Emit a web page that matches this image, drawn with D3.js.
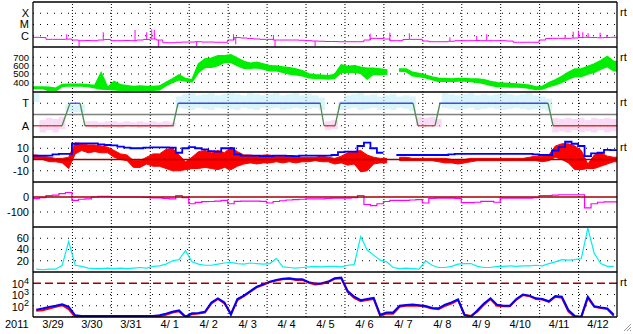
<!DOCTYPE html>
<html>
<head>
<meta charset="utf-8">
<script src="https://cdn.jsdelivr.net/npm/d3@7"></script>
<style>
body { margin: 0; background: #fff; }
svg { display: block; font-family: "Liberation Sans", Arial, sans-serif; font-size: 11px; }
</style>
</head>
<body>
<svg width="633" height="334"></svg>
<script>
// ---- data: 4-hour bins, 2011-03-29 00UT .. 2011-04-13 00UT (90 bins) ----

// GOES x-ray, log10 flux (baseline) + short spikes [hour, log10 flux]
var xrayLog = [
  -6.14,-6.16,-6.32,-6.32,-6.32,-6.30, -6.38,-6.44,-6.42,-6.44,-6.38,-6.33,
  -6.44,-6.44,-6.42,-6.44,-6.38,-6.33, -6.29,-6.38,-6.62,-6.62,-6.58,-6.56,
  -6.56,-6.53,-6.56,-6.56,-6.58,-6.58, -6.38,-6.16,-6.20,-6.24,-6.29,-6.32,
  -6.32,-6.38,-6.38,-6.38,-6.38,-6.40, -6.44,-6.47,-6.49,-6.51,-6.51,-6.53,
  -6.53,-6.53,-6.53,-6.38,-6.23,-6.24, -6.29,-6.44,-6.44,-6.33,-6.32,-6.32,
  -6.47,-6.53,-6.53,-6.53,-6.49,-6.44, -6.44,-6.44,-6.42,-6.44,-6.44,-6.44,
  -6.44,-6.47,-6.58,-6.58,-6.58,-6.58, -6.38,-6.24,-6.23,-6.23,-6.23,-6.20,
  -6.16,-6.14,-6.16,-6.18,-6.16,-6.14
];
var xraySpikeHours = [20.8, 28.4, 43.3, 62.9, 70.1, 73.2, 74.8, 77.3, 100.9, 123.6, 125, 148.2, 149.2,
  173.9, 207.8, 220, 232, 257, 273.5, 279.7, 328, 333, 336.2, 338.9, 342.2, 349.6, 353.7];
var xraySpikeLog = [-5.87, -6.97, -5.69, -5.49, -5.69, -5.43, -5.49, -6.97, -6.91, -5.87, -6.76, -5.93, -6.97,
  -6.93, -5.82, -5.73, -5.78, -6.14, -6.02, -5.87, -5.93, -5.64, -5.55, -5.69, -5.78, -5.73, -5.93];

// solar wind speed, km/s (low / high envelope per bin)
var speedLo = [
  325,325,300,295,350,358, 355,355,350,335,320,318, 310,305,300,305,305,300,
  305,310,360,400,430,415, 405,520,580,580,600,640, 640,600,570,570,575,560,
  540,540,520,500,490,480, 455,450,445,440,450,520, 520,520,510,440,500,490,
  500,null,535,530,480,470, 455,435,410,415,410,415, 415,410,400,385,365,350,
  350,345,345,340,330,315, 320,350,370,400,440,470, 470,500,520,560,590,540
];
var speedHi = [
  345,345,340,330,375,378, 378,378,372,362,515,340, 410,370,360,350,355,350,
  350,355,400,440,490,445, 430,620,680,690,720,720, 730,690,650,630,640,620,
  600,595,585,575,560,540, 500,490,485,480,495,610, 590,600,580,570,570,560,
  550,null,560,560,520,505, 485,465,450,445,440,445, 445,440,440,430,410,395,
  390,385,380,375,365,345, 350,395,430,470,520,560, 560,590,620,660,710,650
];

// IMF sector: T = +1, A = -1 (change points in hours)
var sectorHours  = [0, 17.9, 22.8, 29, 32, 86.3, 89.4, 177, 179.4, 186.2, 189.3, 234.3, 237.3, 247.8, 250.9, 317.5, 320.6, 360];
var sectorValues = [-1, -1, 1, 1, -1, -1, 1, 1, -1, -1, 1, 1, -1, -1, 1, 1, -1, -1];
var sectorTicks = [1, -1];
var sectorTickLabels = ['T', 'A'];
// spread of the field angle points per bin (same units)
var sectorLo = [
  1.1,-1.6,-1.4,-1.6,-1.3,0.2, 0.2,0.2,-1.1,-1.2,-1.1,-1.2, -1.1,-1.2,-1.0,-1.1,-1.2,-1.1,
  -1.1,-1.2,-1.1,-1.0,0.6,0.5, 0.4,0.6,0.5,0.4,0.6,0.5, 0.5,0.4,0.6,0.5,0.4,0.6,
  0.5,0.6,0.4,0.5,0.6,0.5, 0.5,0.6,0.4,-1.4,-1.3,0.4, 0.5,0.6,0.4,0.5,0.6,0.4,
  0.5,0.4,0.6,0.5,0.3,-1.0, -1.0,-0.9,-1.1,0.6,0.5,0.4, 0.5,0.6,0.4,0.5,0.6,0.5,
  0.4,0.5,0.6,0.5,0.4,0.5, 0.5,0.3,-1.6,-1.5,-1.6,-1.4, -1.6,-1.5,-1.6,-1.4,-1.6,-1.5
];
var sectorHi = [
  1.9,-0.5,-0.3,-0.4,-0.2,0.9, 0.9,0.9,-0.6,-0.6,-0.7,-0.6, -0.6,-0.7,-0.6,-0.7,-0.6,-0.7,
  -0.6,-0.7,-0.6,-0.7,1.6,1.8, 1.9,1.7,1.8,1.9,1.7,1.8, 1.9,1.8,1.7,1.9,1.8,1.7,
  1.8,1.9,1.7,1.8,1.9,1.7, 1.8,1.7,1.5,-0.6,-0.5,1.2, 1.7,1.8,1.9,1.7,1.8,1.6,
  1.7,1.8,1.6,1.7,1.6,-0.2, -0.3,-0.2,-0.4,1.9,1.8,1.7, 1.8,1.9,1.7,1.8,1.7,1.8,
  1.9,1.8,1.7,1.8,1.9,1.7, 1.6,1.4,-0.3,-0.4,-0.3,-0.4, -0.3,-0.5,-0.3,-0.4,-0.3,-0.4
];

// IMF Bt (blue) and Bz envelope (red), nT
var bt = [
  3.4,3.4,3.4,4.5,5,5, 14,14.4,14.4,14.4,13.5,12.9, 12.5,11.5,10.5,10,10,10.5,
  10.8,10.8,10.8,10.5,6,10, 11,10,9,7.5,7,10, 10,4.5,3.5,3.4,3.4,3,
  3,3.4,3.4,3.2,3,3.4, 3.4,3.4,3.4,3.4,4,6.5, 7,7,12,15,10,6,
  6,null,4,4,4,4, 4,4,4,4,4.5,5, 5,5,5,5,5,5,
  5,5,5,5,5,4.5, 4,4,8,11,15.8,14, 12,3,5.5,6,8.5,8.4
];
var bzLo = [
  1,0,-2,-2,-3,-8, 5,8,6,7,6,6, 2,0,-1,-7,-7,-4, -6,-6,-8,-10,-10,-9,
  -8,-8,-7,-8,-9,-7, -9,-6,-4,-3,-4,-3, -3,-2,-3,-2,-3,-2, -2,-1,-2,-2,-4,-3,
  -5,-4,-11,-10,-4,-3, -3,null,-1,-1,-1,-1, -1,-1,-2,-3,-3,-4, -3,-2,-1,-1,-1,-1,
  -1,-1,-1,-1,-1,-1, -2,-1,2,0,-3,-9, -9,-8,-8,-6,-4,-2
];
var bzHi = [
  4,3,2,1,1,2, 15,14,13,13,12,11, 8,5,4,-1,-1,2, 5,5,9,10,4,-2,
  2,7,8,6,8,6, 11,7,4,4,3,4, 4,3,3,3,3,2, 2,2,3,2,1,3,
  6,7,8,4,2,1, 1,null,2,2,1,1, 1,1,1,1,0,-1, 0,1,1,1,1,1,
  1,1,1,1,2,3, 3,4,12,14,14,12, 8,-4,4,6,3,2
];

// Dst, nT
var dst = [
  -11,-5,9,12,22,30, -22,-15,-12,0,4,4, 0,0,0,0,0,-2, -6,-6,-10,-12,9,-4,
  -45,-36,-31,-30,-28,-22, -45,-29,-28,-27,-27,-29, -40,-30,-25,-20,-18,-15,
  -13,-13,-12,-10,-7,-7, -7,-5,10,-50,-58,-45, -30,-22,-22,-22,-20,-18,
  -40,-10,-7,-7,-7,-10, -38,-38,-35,-29,-29,-35, -7,-7,-7,-7,-7,-5,
  9,9,12,15,15,15, 15,-73,-45,-35,-33,-33
];

// cyan index panel
var cyanIdx = [
  5,4,5,5,12,54, 12,10,7,6,6,7, 6,7,6,7,8,7, 10,11,14,20,22,38,
  18,14,12,12,14,16, 17,15,14,16,15,14, 15,24,9,8,7,8, 9,10,9,10,10,9,
  12,13,63,39,30,21, 18,8,6,7,6,5, 20,12,8,8,10,14, 15,15,10,8,8,10,
  10,11,10,11,11,12, 11,15,18,22,21,22, 24,78,33,15,10,10
];

// electron flux, log10 (blue and red channels)
var eBlue = [
  1.65,1.75,1.9,2.0,2.13,1.9, 1.15,1.1,1.1,1.1,1.1,1.1, 1.1,1.1,1.1,1.1,1.1,1.1,
  1.1,1.15,1.3,1.47,1.6,1.03, 1.33,1.35,1.47,2.3,2.66,2.3, 1.2,2.6,2.9,3.3,3.7,3.9,
  4.14,4.3,4.4,4.45,4.35,4.35, 4.1,3.95,4.0,4.15,4.45,4.5, 3.3,2.8,2.5,2.6,2.7,1.2,
  1.4,1.4,2.0,2.07,2.1,2.05, 1.98,1.8,1.77,2.1,2.3,2.57, 1.18,1.03,1.6,2.2,2.66,2.1,
  2.0,2.0,2.6,3.0,2.9,2.66, 2.6,2.4,2.87,2.8,1.62,1.1, 1.03,2.8,1.95,1.85,1.77,1.2
];
var eRed = [
  1.55,1.6,1.75,1.9,2.05,1.7, 1.0,1.0,1.0,1.0,1.0,1.0, 1.0,1.0,1.0,1.0,1.0,1.0,
  1.0,1.05,1.2,1.4,1.5,1.0, 1.25,1.3,1.4,2.2,2.6,2.2, 1.3,2.5,2.85,3.25,3.65,3.85,
  4.1,4.25,4.35,4.4,4.3,4.3, 4.05,3.9,3.95,4.1,4.4,4.45, 3.2,2.7,2.4,2.5,2.6,1.1,
  1.3,1.3,1.9,2.0,2.0,2.0, 1.9,1.75,1.7,2.0,2.2,2.5, 1.2,1.1,1.5,2.1,2.6,2.0,
  1.95,1.95,2.55,2.95,2.85,2.6, 2.55,2.35,2.8,2.7,1.5,1.0, 1.0,2.7,1.9,1.8,1.7,1.1
];

var xrayTicks = [-4, -5, -6], xrayTickLabels = ['X', 'M', 'C'];
var speedTicks = [400, 500, 600, 700];
var bTicks = [10, 0, -10];
var dstTicks = [0, -100];
var cyanTicks = [20, 40, 60];
var eTicks = [4, 3, 2];

// ---- layout ----
var svg = d3.select('svg');
var left = 33, right = 617, top0 = 2, ph = 45;
var HOUR = 3600e3, BIN = 4 * HOUR;
var t0 = Date.UTC(2011, 2, 29), t1 = Date.UTC(2011, 3, 13);
var x = d3.scaleUtc().domain([t0, t1]).range([left, right]);
function binT(i) { return t0 + i * BIN; }
function midT(i) { return t0 + i * BIN + BIN / 2; }

var panels = d3.range(7).map(function (i) { return { top: top0 + ph * i, bottom: top0 + ph * (i + 1) }; });
function yFor(p, dom) { return d3.scaleLinear().domain(dom).range([panels[p].bottom, panels[p].top]); }

var yX = yFor(0, [-7, -3]);
var yV = yFor(1, [284, 824]);
var yS = yFor(2, [-2, 2]);
var yB = yFor(3, [-20, 20]);
var yD = yFor(4, [-200, 100]);
var yC = yFor(5, [0, 80]);
var yE = yFor(6, [1, 5]);

var defs = svg.append('defs');
panels.forEach(function (p, i) {
  defs.append('clipPath').attr('id', 'clip' + i)
    .append('rect').attr('x', left).attr('y', p.top).attr('width', right - left).attr('height', ph);
});

var grid = svg.append('g').classed('grid', true);
var marks = svg.append('g').classed('marks', true);
var frame = svg.append('g').classed('frame', true);

// 1. gridlines
// ----------------------------------
var midnights = d3.utcDay.range(new Date(t0 + HOUR), new Date(t1));
grid.append('g')
  .attr('transform', 'translate(0,' + panels[6].bottom + ')')
  .call(d3.axisBottom(x).tickValues(midnights).tickSize(-(panels[6].bottom - top0)).tickFormat(''))
  .call(function (g) { g.select('.domain').remove(); })
  .selectAll('line').attr('stroke', '#000').attr('stroke-dasharray', '1,2');

function hDots(y, vals, dash) {
  grid.selectAll(null).data(vals).enter().append('line')
    .attr('x1', left).attr('x2', right)
    .attr('y1', function (d) { return y(d); }).attr('y2', function (d) { return y(d); })
    .attr('stroke', '#000').attr('stroke-dasharray', dash || '1,6');
}
hDots(yX, xrayTicks);
hDots(yV, speedTicks);
hDots(yS, sectorTicks);
hDots(yB, [10, -10]);
hDots(yD, [-100]);
hDots(yC, cyanTicks);
hDots(yE, [3, 2]);

function refLine(y, v, dash) {
  marks.append('line').attr('x1', left).attr('x2', right)
    .attr('y1', y(v)).attr('y2', y(v))
    .attr('stroke', '#a00000').attr('stroke-width', 1.3)
    .attr('stroke-dasharray', dash || null);
}

// 2. helpers
// ----------------------------------
function stepPts(vals) {
  var pts = vals.map(function (v, i) { return { t: binT(i), v: v }; });
  pts.push({ t: t1, v: vals[vals.length - 1] });
  return pts;
}
function stepPath(y, vals) {
  return d3.line().defined(function (d) { return d.v != null; })
    .curve(d3.curveStepAfter)
    .x(function (d) { return x(d.t); }).y(function (d) { return y(d.v); })(stepPts(vals));
}
// ribbon through bin centres, closed out to both edges
function bandPath(y, lo, hi) {
  var n = lo.length;
  var pts = lo.map(function (v, i) { return { t: midT(i), lo: v, hi: hi[i] }; });
  pts.unshift({ t: t0, lo: lo[0], hi: hi[0] });
  pts.push({ t: t1, lo: lo[n - 1], hi: hi[n - 1] });
  return d3.area().defined(function (d) { return d.lo != null; })
    .x(function (d) { return x(d.t); })
    .y0(function (d) { return y(d.lo); }).y1(function (d) { return y(d.hi); })(pts);
}
function linePath(y, vals) {
  return d3.line().defined(function (d) { return d != null; })
    .x(function (d, i) { return x(midT(i)); }).y(function (d) { return y(d); })(vals);
}
function panelG(i) { return marks.append('g').attr('clip-path', 'url(#clip' + i + ')'); }

// 3. panels
// ----------------------------------
// x-ray
var g0 = panelG(0);
g0.append('path').attr('d', stepPath(yX, xrayLog)).attr('fill', 'none').attr('stroke', '#ff00ff');
g0.selectAll(null).data(xraySpikeHours).enter().append('line')
  .attr('x1', function (h) { return x(t0 + h * HOUR); })
  .attr('x2', function (h) { return x(t0 + h * HOUR); })
  .attr('y1', function (h) { return yX(xrayLog[Math.floor(h / 4)]); })
  .attr('y2', function (h, i) { return yX(xraySpikeLog[i]); })
  .attr('stroke', '#ff00ff');

// speed
var g1 = panelG(1);
g1.append('path').attr('d', bandPath(yV, speedLo, speedHi))
  .attr('fill', '#00ee00').attr('stroke', '#00ee00').attr('stroke-width', 1.5);

// sector
var g2 = panelG(2);
g2.selectAll(null).data(sectorLo).enter().append('rect')
  .attr('x', function (d, i) { return x(binT(i)); })
  .attr('width', function (d, i) { return x(binT(i + 1)) - x(binT(i)); })
  .attr('y', function (d, i) { return yS(sectorHi[i]); })
  .attr('height', function (d, i) { return yS(d) - yS(sectorHi[i]); })
  .attr('fill', function (d, i) { return sectorHi[i] > 0 ? '#b4eaf8' : '#f5b8ee'; })
  .attr('opacity', 0.5);
g2.append('line').attr('x1', left).attr('x2', right)
  .attr('y1', yS(0)).attr('y2', yS(0)).attr('stroke', '#808080').attr('stroke-width', 1.3);
var segs = d3.range(sectorHours.length - 1);
g2.selectAll(null).data(segs).enter().append('line')
  .attr('x1', function (i) { return x(t0 + sectorHours[i] * HOUR); })
  .attr('x2', function (i) { return x(t0 + sectorHours[i + 1] * HOUR); })
  .attr('y1', function (i) { return yS(sectorValues[i]); })
  .attr('y2', function (i) { return yS(sectorValues[i + 1]); })
  .attr('stroke', function (i) {
    if (sectorValues[i] !== sectorValues[i + 1]) return '#4f8a4f';
    return sectorValues[i] > 0 ? '#3a4ee0' : '#e03030';
  })
  .attr('stroke-width', 1.3);

// IMF
var g3 = panelG(3);
refLine(yB, 0);
g3.append('path').attr('d', bandPath(yB, bzLo, bzHi)).attr('fill', '#ff0000').attr('stroke', '#ff0000');
g3.append('path').attr('d', stepPath(yB, bt)).attr('fill', 'none').attr('stroke', '#0000ff').attr('stroke-width', 1.8);

// Dst
var g4 = panelG(4);
refLine(yD, 0);
g4.append('path').attr('d', stepPath(yD, dst)).attr('fill', 'none').attr('stroke', '#ff00ff').attr('stroke-width', 1.2);

// cyan
var g5 = panelG(5);
g5.append('path').attr('d', linePath(yC, cyanIdx)).attr('fill', 'none').attr('stroke', '#00f0f0').attr('stroke-width', 1.2);

// electrons
var g6 = panelG(6);
refLine(yE, 4, '8,4');
g6.append('path').attr('d', linePath(yE, eRed)).attr('fill', 'none').attr('stroke', '#ff0000').attr('stroke-width', 2);
g6.append('path').attr('d', linePath(yE, eBlue)).attr('fill', 'none').attr('stroke', '#0000ff').attr('stroke-width', 2);

// 4. frame
// ----------------------------------
frame.selectAll(null).data(d3.range(8)).enter().append('line')
  .attr('x1', left).attr('x2', right)
  .attr('y1', function (i) { return top0 + ph * i; }).attr('y2', function (i) { return top0 + ph * i; })
  .attr('stroke', '#000').attr('stroke-width', 1.6);
frame.selectAll(null).data([left, right]).enter().append('line')
  .attr('x1', function (d) { return d; }).attr('x2', function (d) { return d; })
  .attr('y1', top0).attr('y2', top0 + ph * 7)
  .attr('stroke', '#000').attr('stroke-width', 1.3);

// 5. labels
// ----------------------------------
var labels = svg.append('g').attr('fill', '#000');
function yLabels(y, vals, texts, size) {
  labels.selectAll(null).data(vals).enter().append('text')
    .attr('x', 29).attr('y', function (d) { return y(d); }).attr('dy', '0.36em')
    .attr('text-anchor', 'end')
    .attr('font-size', size || null)
    .text(function (d, i) { return texts ? texts[i] : d; });
}
yLabels(yX, xrayTicks, xrayTickLabels);
yLabels(yV, speedTicks, null, '9.5px');
yLabels(yS, sectorTicks, sectorTickLabels);
yLabels(yB, bTicks);
yLabels(yD, dstTicks);
yLabels(yC, cyanTicks);
var eLab = labels.selectAll(null).data(eTicks).enter().append('text')
  .attr('x', 29).attr('y', function (d) { return yE(d); }).attr('dy', '0.45em')
  .attr('text-anchor', 'end');
eLab.append('tspan').text('10');
eLab.append('tspan').attr('dy', '-0.5em').attr('font-size', '9px').text(function (d) { return d; });

[0, 1, 2, 3, 6].forEach(function (i) {
  labels.append('text').attr('x', 620).attr('y', panels[i].top + 14).text('rt');
});

var noons = d3.utcDay.range(new Date(t0), new Date(t1)).map(function (d) { return new Date(+d + 12 * HOUR); });
function dayFmt(d) {
  var day = d.getUTCDate();
  return (d.getUTCMonth() + 1) + '/' + (day < 10 ? ' ' + day : day);
}
svg.append('g')
  .attr('transform', 'translate(0,' + panels[6].bottom + ')')
  .call(d3.axisBottom(x).tickValues(noons).tickSize(0).tickPadding(3).tickFormat(dayFmt))
  .call(function (g) { g.select('.domain').remove(); })
  .selectAll('text').attr('font-size', '11px').attr('font-family', '"Liberation Sans", Arial, sans-serif')
  .style('white-space', 'pre');
labels.append('text').attr('x', 5).attr('y', 328).text('2011');

// corner hatch
svg.selectAll(null).data([0, 1, 2]).enter().append('line')
  .attr('x1', function (k) { return 624 + k * 3; }).attr('y1', 331)
  .attr('x2', 631).attr('y2', function (k) { return 324 + k * 3; })
  .attr('stroke', '#999');
</script>
</body>
</html>
